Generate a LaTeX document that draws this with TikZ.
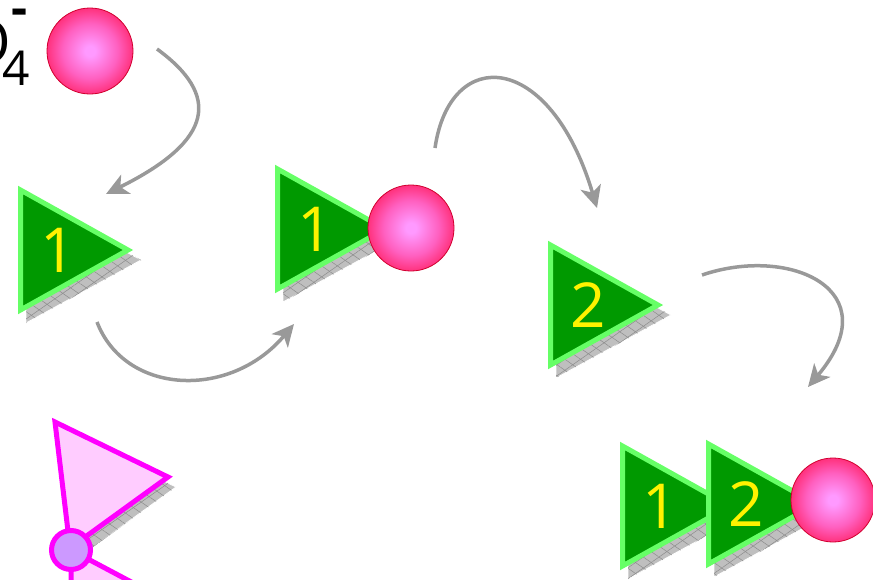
\documentclass[tikz,border=0pt]{standalone}
\usepackage{fontspec}
\setmainfont{Open Sans}
\usetikzlibrary{arrows.meta, patterns.meta}
\definecolor{dunkelgruen}{HTML}{009900}
\definecolor{hellgruen}{HTML}{66FF66}
\definecolor{pink}{HTML}{FF00FF}
\definecolor{rosa}{HTML}{FFCCFF}
\definecolor{lila}{HTML}{CC99FF}
\definecolor{pfeilgrau}{HTML}{999999}
\definecolor{kugelinnen}{HTML}{FF99FF}
\definecolor{kugelhell}{HTML}{FF60C0}
\definecolor{kugelmitte}{HTML}{FF1858}
\definecolor{kugelaussen}{HTML}{E80034}
\pgfdeclareradialshading{kugelschattierung}{\pgfpoint{0bp}{0bp}}{color(0bp)=(kugelinnen); color(3bp)=(kugelinnen); color(16bp)=(kugelhell); color(30bp)=(kugelmitte); color(50bp)=(kugelaussen)}

\begin{document}
\begin{tikzpicture}[x=1pt, y=-1pt,
    pfeil/.style={pfeilgrau, line width=3.5pt, -{Stealth[length=22pt, width=21pt, inset=6pt]}},
    schatten/.style={fill=black!25, draw=white, line width=0.8pt,
      postaction={pattern={Lines[angle=35, distance=9pt, line width=0.5pt]}, pattern color=black!45},
      postaction={pattern={Lines[angle=-35, distance=9pt, line width=0.5pt]}, pattern color=black!45}},
    dreieck/.style={fill=dunkelgruen, draw=hellgruen, line width=5pt},
    rosadreieck/.style={fill=rosa, draw=pink, line width=5pt},
    ziffer/.style={yellow, font=\fontsize{62}{62}\selectfont, inner sep=0pt},
    kugel/.style={circle, shading=kugelschattierung, draw=kugelaussen!90!black, line width=0.8pt, minimum size=86pt, inner sep=0pt}
]
  \useasboundingbox (0,0) rectangle (873,579);
  \clip (0,0) rectangle (873,579);

  % Formel oben links (angeschnitten)
  \node[font=\fontsize{60}{60}\selectfont, inner sep=0pt, anchor=base east] (sauerstoff) at (11,63) {O};
  \node[font=\fontsize{48}{48}\selectfont, inner sep=0pt, anchor=base] (index) at (16,85) {4};
  \node[font=\bfseries\fontsize{50}{50}\selectfont, inner sep=0pt, anchor=base] (ladung) at (19.5,25) {-};

  % gruene Dreiecke mit Schatten
  \foreach \x/\y/\z/\n in {18/250/1/a, 275/229/1/b, 548/305/2/c, 620/506/1/d, 706/504/2/e} {
    \path[schatten, shift={(\x,\y)}] (8,-53) -- (123,10) -- (8,73) -- cycle;
    \draw[dreieck, shift={(\x,\y)}] (2.5,-60) -- (110,0) -- (2.5,60) -- cycle;
    \node[ziffer] (ziffer-\n) at (\x+40,\y) {\z};
  }

  % Kugeln
  \node[kugel] (kugel-oben) at (90,51) {};
  \node[kugel] (kugel-mitte) at (411,228) {};
  \node[kugel, minimum size=84pt] (kugel-unten) at (833,500) {};

  % rosa Dreiecke unten links
  \draw[rosadreieck] (71,550) -- (186,611) -- (71,672) -- cycle;
  \path[schatten] (63,432) -- (176,487) -- (78,558) -- cycle;
  \draw[rosadreieck] (55,422) -- (168,477) -- (70,548) -- cycle;
  \node[circle, fill=lila, draw=pink, line width=5pt, minimum size=39pt, inner sep=0pt] (gelenk) at (71,550) {};

  % Pfeile
  \coordinate (p1s) at (157,49);
  \coordinate (p1e) at (106,194);
  \coordinate (p2s) at (97,322);
  \coordinate (p2e) at (294,324);
  \coordinate (p3s) at (435,148);
  \coordinate (p3e) at (597,208);
  \coordinate (p4s) at (702,275);
  \coordinate (p4e) at (808,387);
  \draw[pfeil] (p1s) .. controls (220,95) and (215,140) .. (p1e);
  \draw[pfeil] (p2s) .. controls (125,395) and (230,400) .. (p2e);
  \draw[pfeil] (p3s) .. controls (450,45) and (550,50) .. (p3e);
  \draw[pfeil] (p4s) .. controls (790,245) and (890,290) .. (p4e);

\end{tikzpicture}
\end{document}
